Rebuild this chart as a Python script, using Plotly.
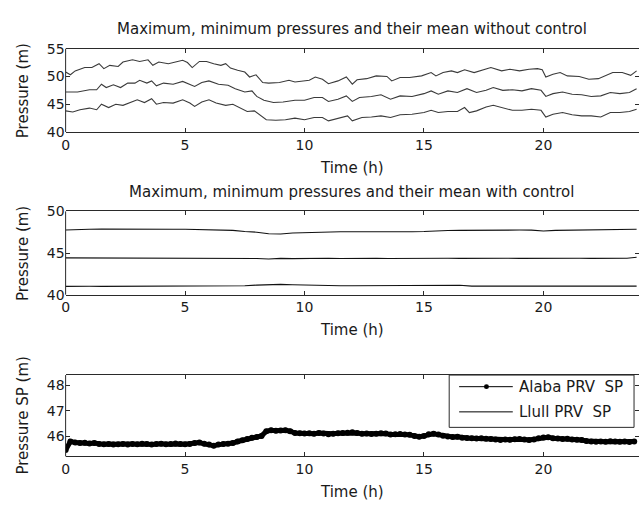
import plotly.graph_objects as go

# ---------------- data ----------------
# Panel 1: without control
t_max_nc = [0, 0.2, 0.4, 0.8, 1.1, 1.4, 1.6, 1.85, 2.2, 2.4, 2.8, 3.1, 3.45, 3.65, 3.9, 4.3, 4.6, 4.9,
            5.1, 5.3, 5.6, 5.9, 6.2, 6.5, 6.7, 6.9, 7.2, 7.5, 7.7, 7.97, 8.25, 8.5, 8.95, 9.35, 9.6,
            9.95, 10.2, 10.45, 10.75, 11.0, 11.4, 11.75, 12.0, 12.2, 12.6, 13.0, 13.45, 13.65, 14.0,
            14.4, 14.9, 15.3, 15.5, 15.8, 16.15, 16.4, 16.7, 17.1, 17.4, 17.8, 18.25, 18.6, 19.0,
            19.4, 19.75, 19.95, 20.1, 20.4, 20.7, 21.0, 21.5, 21.9, 22.3, 22.6, 22.9, 23.3, 23.65, 23.9]
p_max_nc = [50.8, 50.3, 51.0, 51.6, 51.6, 52.3, 51.4, 52.0, 51.8, 52.6, 53.0, 52.7, 53.0, 52.0, 52.6,
            52.3, 52.6, 52.9, 52.5, 51.6, 52.7, 52.7, 52.3, 52.0, 52.3, 51.5, 51.1, 50.8, 49.9, 50.3,
            48.9, 48.8, 48.9, 49.3, 49.0, 49.1, 49.3, 49.9, 49.5, 48.7, 49.2, 49.9, 48.6, 49.4, 49.6,
            50.1, 50.0, 49.2, 49.8, 49.8, 50.1, 50.7, 50.1, 50.7, 51.0, 50.7, 51.2, 50.7, 51.1, 51.6,
            51.0, 51.3, 51.0, 51.3, 51.4, 51.2, 49.9, 50.4, 50.7, 50.1, 50.0, 49.5, 49.6, 50.1, 50.7,
            50.7, 50.2, 51.0]

t_mean_nc = [0, 0.5, 1.0, 1.3, 1.5, 1.7, 2.0, 2.3, 2.6, 2.9, 3.1, 3.4, 3.6, 3.8, 4.1, 4.5, 4.9, 5.2,
             5.4, 5.7, 6.0, 6.4, 6.8, 7.1, 7.5, 7.8, 8.0, 8.3, 8.7, 9.1, 9.6, 10.0, 10.4, 10.75, 11.0,
             11.4, 11.75, 12.0, 12.3, 12.8, 13.2, 13.6, 14.0, 14.5, 15.0, 15.3, 15.6, 16.0, 16.4, 16.8,
             17.2, 17.6, 17.9, 18.3, 18.7, 19.1, 19.5, 19.9, 20.1, 20.4, 20.8, 21.2, 21.6, 22.0, 22.4,
             22.8, 23.2, 23.6, 23.9]
p_mean_nc = [47.2, 47.2, 47.6, 47.6, 48.6, 48.0, 48.5, 48.0, 48.8, 48.8, 49.3, 48.8, 49.2, 48.3, 48.8,
             48.6, 49.1, 48.6, 48.2, 48.9, 49.2, 48.6, 48.4, 47.8, 47.2, 47.4, 46.4, 45.7, 45.3, 45.4,
             45.7, 45.7, 46.2, 46.2, 45.5, 45.9, 46.5, 45.5, 46.2, 46.4, 46.7, 45.9, 46.5, 46.4, 46.9,
             47.4, 46.8, 47.4, 47.1, 47.8, 47.1, 47.5, 48.0, 47.5, 47.6, 47.4, 47.8, 47.5, 46.4, 46.9,
             47.2, 46.8, 46.7, 46.4, 46.5, 47.1, 46.9, 47.1, 47.8]

t_min_nc = [0, 0.3, 0.6, 1.0, 1.3, 1.5, 1.8, 2.1, 2.4, 2.7, 3.0, 3.3, 3.6, 3.8, 4.1, 4.5, 4.9, 5.2, 5.4,
            5.7, 6.0, 6.3, 6.7, 7.0, 7.3, 7.6, 7.9, 8.1, 8.4, 8.8, 9.2, 9.6, 10.0, 10.4, 10.75, 11.0,
            11.4, 11.8, 12.0, 12.4, 12.8, 13.2, 13.6, 14.0, 14.5, 15.0, 15.3, 15.6, 16.0, 16.4, 16.7,
            16.9, 17.2, 17.6, 17.9, 18.3, 18.7, 19.1, 19.5, 19.9, 20.1, 20.4, 20.8, 21.2, 21.6, 22.0,
            22.4, 22.8, 23.2, 23.6, 23.9]
p_min_nc = [43.8, 43.6, 44.0, 44.3, 44.0, 45.0, 44.4, 45.0, 44.8, 45.3, 45.8, 45.3, 46.0, 45.0, 45.3,
            45.2, 45.8, 45.2, 44.6, 45.4, 45.8, 45.2, 44.8, 45.0, 44.3, 43.7, 43.8, 43.1, 42.2, 42.1,
            42.2, 42.5, 42.2, 42.6, 42.6, 42.0, 42.5, 42.9, 42.0, 42.6, 42.7, 42.9, 42.6, 43.1, 43.2,
            43.5, 43.9, 43.5, 43.7, 43.7, 44.4, 43.5, 43.8, 44.5, 44.8, 44.3, 43.9, 43.9, 44.1, 43.9,
            42.7, 43.2, 43.5, 43.1, 42.9, 42.9, 42.7, 43.5, 43.5, 43.7, 44.1]

# Panel 2: with control (0.5 h resolution)
t_ctrl = [0, 0.5, 1, 1.5, 2, 2.5, 3, 3.5, 4, 4.5, 5, 5.5, 6, 6.5, 7, 7.5, 8, 8.5, 9, 9.5, 10, 10.5, 11,
          11.5, 12, 12.5, 13, 13.5, 14, 14.5, 15, 15.5, 16, 16.5, 17, 17.5, 18, 18.5, 19, 19.5, 20,
          20.5, 21, 21.5, 22, 22.5, 23, 23.5, 23.9]
p_max_c = [47.76, 47.85, 47.85, 47.88, 47.86, 47.87, 47.86, 47.85, 47.87, 47.85, 47.86, 47.84, 47.85,
           47.80, 47.72, 47.58, 47.50, 47.32, 47.28, 47.40, 47.45, 47.44, 47.50, 47.55, 47.56, 47.55,
           47.56, 47.50, 47.54, 47.56, 47.58, 47.66, 47.70, 47.72, 47.74, 47.75, 47.76, 47.75, 47.76,
           47.75, 47.64, 47.72, 47.74, 47.75, 47.74, 47.76, 47.77, 47.78, 47.85]
p_mean_c = [44.42, 44.42, 44.42, 44.42, 44.42, 44.42, 44.42, 44.42, 44.42, 44.42, 44.41, 44.42, 44.40,
            44.40, 44.38, 44.36, 44.34, 44.28, 44.36, 44.33, 44.36, 44.35, 44.38, 44.34, 44.38, 44.36,
            44.38, 44.34, 44.36, 44.35, 44.37, 44.35, 44.38, 44.36, 44.38, 44.37, 44.38, 44.37, 44.36,
            44.38, 44.33, 44.38, 44.37, 44.38, 44.36, 44.38, 44.38, 44.38, 44.50]
p_min_c = [41.00, 41.04, 41.02, 41.00, 41.00, 41.00, 41.00, 41.00, 41.00, 41.00, 41.00, 41.00, 41.02,
           41.02, 41.04, 41.08, 41.15, 41.22, 41.24, 41.20, 41.15, 41.10, 41.08, 41.08, 41.08, 41.08,
           41.08, 41.08, 41.08, 41.08, 41.08, 41.08, 41.08, 41.14, 41.03, 41.03, 41.03, 41.03, 41.03,
           41.03, 41.03, 41.03, 41.03, 41.03, 41.03, 41.03, 41.03, 41.03, 41.03]

# Panel 3: set points (0.2 h resolution)
t_sp = [round(0.2 * i, 1) for i in range(120)]
alaba_sp = [45.47, 45.80, 45.76, 45.74, 45.75, 45.72, 45.74, 45.70, 45.69, 45.70,
            45.68, 45.69, 45.70, 45.68, 45.70, 45.69, 45.71, 45.70, 45.68, 45.70,
            45.71, 45.69, 45.70, 45.72, 45.70, 45.69, 45.70, 45.74, 45.76, 45.71,
            45.68, 45.64, 45.68, 45.70, 45.71, 45.74, 45.80, 45.85, 45.90, 45.95,
            45.98, 46.02, 46.20, 46.24, 46.22, 46.23, 46.24, 46.20, 46.13, 46.12,
            46.11, 46.12, 46.10, 46.13, 46.11, 46.08, 46.10, 46.12, 46.13, 46.14,
            46.16, 46.13, 46.10, 46.11, 46.09, 46.10, 46.12, 46.11, 46.07, 46.08,
            46.09, 46.07, 46.06, 46.02, 45.99, 46.02, 46.08, 46.10, 46.07, 46.03,
            46.00, 45.98, 45.99, 45.95, 45.94, 45.93, 45.92, 45.93, 45.91, 45.90,
            45.88, 45.86, 45.88, 45.87, 45.89, 45.90, 45.88, 45.86, 45.88, 45.93,
            45.96, 45.97, 45.93, 45.92, 45.90, 45.91, 45.88, 45.87, 45.86, 45.82,
            45.80, 45.79, 45.80, 45.79, 45.81, 45.80, 45.79, 45.80, 45.78, 45.80]
llull_sp = list(alaba_sp)
legend_names = ["Alaba PRV  SP", "Llull PRV  SP"]

x_ticks = [0, 5, 10, 15, 20]
y_ticks_1 = [40, 45, 50, 55]
y_ticks_2 = [40, 45, 50]
y_ticks_3 = [46, 47, 48]

titles = ["Maximum, minimum pressures and their mean without control",
          "Maximum, minimum pressures and their mean with control"]

# ---------------- figure ----------------
W, H = 639, 508
FONT = "DejaVu Sans"
TXT = "#1a1a1a"
AX = "#2a2a2a"

fig = go.Figure()

gray = "#3a3a3a"
for t, p in [(t_max_nc, p_max_nc), (t_mean_nc, p_mean_nc), (t_min_nc, p_min_nc)]:
    fig.add_trace(go.Scatter(x=t, y=p, mode="lines", line=dict(color=gray, width=1.1),
                             showlegend=False, xaxis="x", yaxis="y"))
for p in [p_max_c, p_mean_c, p_min_c]:
    fig.add_trace(go.Scatter(x=t_ctrl, y=p, mode="lines", line=dict(color="#111111", width=1.1),
                             showlegend=False, xaxis="x2", yaxis="y2"))
fig.add_trace(go.Scatter(x=t_sp, y=llull_sp, mode="lines", name=legend_names[1],
                         line=dict(color="black", width=1), showlegend=False,
                         xaxis="x3", yaxis="y3"))
fig.add_trace(go.Scatter(x=t_sp, y=alaba_sp, mode="lines+markers", name=legend_names[0],
                         line=dict(color="black", width=5),
                         marker=dict(color="black", size=6, symbol="circle"),
                         showlegend=False, xaxis="x3", yaxis="y3"))

def ydom(top, bottom):
    return [1 - bottom / H, 1 - top / H]

xdom = [62 / W, 1.0]
panels = [(42, 128, [40, 55], y_ticks_1), (210, 296, [40, 50], y_ticks_2),
          (379, 463, [45.22, 48.39], y_ticks_3)]

common_x = dict(range=[0, 24], tickvals=x_ticks, ticks="inside", ticklen=4, tickcolor=AX,
                showline=True, linecolor=AX, linewidth=1, mirror="ticks", showgrid=False,
                zeroline=False, tickfont=dict(family=FONT, size=14, color=TXT), domain=xdom)
common_y = dict(ticks="inside", ticklen=4, tickcolor=AX, showline=False,
                mirror="ticks", showgrid=False, zeroline=False,
                tickfont=dict(family=FONT, size=14, color=TXT))

layout = dict(width=W, height=H, margin=dict(l=0, r=0, t=0, b=0), showlegend=False,
              paper_bgcolor="white", plot_bgcolor="white", font=dict(family=FONT, color=TXT))
shapes = []
for i, (top, bot, rng, yt) in enumerate(panels):
    sx = "" if i == 0 else str(i + 1)
    layout["xaxis" + sx] = dict(common_x, anchor="y" + sx)
    layout["yaxis" + sx] = dict(common_y, range=rng, tickvals=yt, domain=ydom(top, bot),
                                anchor="x" + sx)
    # left frame edge (right edge is cropped off in the reference)
    shapes.append(dict(type="line", xref="x" + sx + " domain", yref="y" + sx + " domain",
                       x0=0, x1=0, y0=0, y1=1, line=dict(color=AX, width=1)))

# custom legend box (drawn like the MATLAB legend)
LX0, LX1, LY0, LY1 = 448, 634, 379, 433
rows = [391, 417]
shapes.append(dict(type="rect", xref="paper", yref="paper", x0=LX0 / W, x1=LX1 / W,
                   y0=1 - LY1 / H, y1=1 - LY0 / H, line=dict(color=AX, width=1),
                   fillcolor="white", layer="above"))
for r in rows:
    shapes.append(dict(type="line", xref="paper", yref="paper", x0=458 / W, x1=512 / W,
                       y0=1 - r / H, y1=1 - r / H, line=dict(color="black", width=1),
                       layer="above"))
shapes.append(dict(type="circle", xref="paper", yref="paper", x0=483 / W, x1=488 / W,
                   y0=1 - (rows[0] + 2.5) / H, y1=1 - (rows[0] - 2.5) / H,
                   fillcolor="black", line=dict(color="black", width=0), layer="above"))
layout["shapes"] = shapes
fig.update_layout(**layout)

annotations = []
def add_text(txt, x, y, anchor="center", angle=0):
    annotations.append(dict(text=txt, x=x / W, y=1 - y / H, xref="paper", yref="paper",
                            showarrow=False, xanchor=anchor, yanchor="middle", textangle=angle,
                            font=dict(family=FONT, size=15, color=TXT)))

add_text(titles[0], 350, 22)
add_text(titles[1], 350, 190)
for yc in (165, 332, 500):
    add_text("Time (h)", 350, yc)
for txt, yc in [("Pressure (m)", 85), ("Pressure (m)", 253), ("Pressure SP (m)", 421)]:
    add_text(txt, 19, yc, angle=-90)
for name, r in zip(legend_names, rows):
    add_text(name, 516, r, anchor="left")
fig.update_layout(annotations=annotations)

fig.write_html("out.html")
